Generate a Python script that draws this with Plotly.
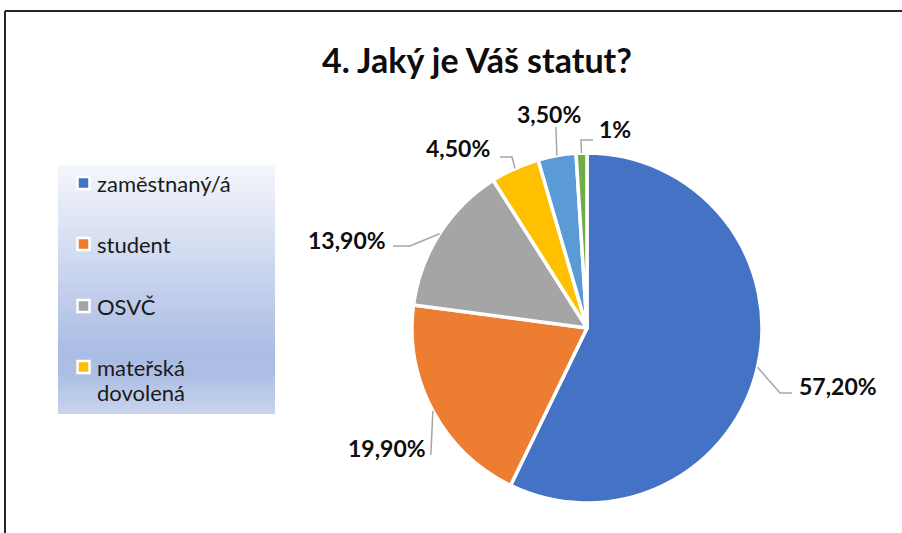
import plotly.graph_objects as go
import math

# ---------------- data ----------------
categories = ["zaměstnaný/á", "student", "OSVČ", "mateřská dovolená",
              "nezaměstnaný/á", "jiné"]
values = [57.2, 19.9, 13.9, 4.5, 3.5, 1.0]
value_labels = ["57,20%", "19,90%", "13,90%", "4,50%", "3,50%", "1%"]
legend_labels = ["zaměstnaný/á", "student", "OSVČ", "mateřská<br>dovolená"]
title_text = "4. Jaký je Váš statut?"

# ---------------- styling ----------------
colors = ["#4472C4", "#ED7D31", "#A5A5A5", "#FFC000", "#5B9BD5", "#70AD47"]
W, H = 902, 533
CX, CY, R = 587, 328, 175          # pie centre / radius in px
FONT = "Lato"

# leader-line bends (px offsets from slice edge mid-point) and label placement
leader_bends = [
    [(22.5, 25.8), (34.5, 25.8)],
    [(-2, 44)],
    [(-29.5, 12.2), (-46.5, 12.2)],
    [(-3, -11.5), (-15, -11.5)],
    [(-1, -28.6)],
    [(-0.5, -13), (11.5, -13)],
]
label_offsets = [(39.5, 18.8, "left"), (-5, 37, "right"), (-51.5, 6, "right"),
                 (-23, -20.5, "right"), (-8, -41.6, "center"), (15.5, -24, "left")]


def px(x):
    return x / W


def py(y):
    return 1 - y / H


fig = go.Figure(go.Pie(
    labels=categories, values=values, sort=False, direction="clockwise",
    rotation=0, textinfo="none", hoverinfo="label+percent", showlegend=False,
    marker=dict(colors=colors, line=dict(color="white", width=3.5)),
    domain=dict(x=[px(CX - R), px(CX + R)], y=[py(CY + R), py(CY - R)]),
))

shapes = []
annotations = []

# frame lines
shapes.append(dict(type="line", xref="paper", yref="paper", x0=px(5), x1=1.0,
                   y0=py(11), y1=py(11), line=dict(color="#262626", width=2)))
shapes.append(dict(type="line", xref="paper", yref="paper", x0=px(5), x1=px(5),
                   y0=py(11), y1=0, line=dict(color="#262626", width=2)))

# legend background gradient
LX0, LX1, LY0, LY1 = 58, 275, 165, 414
stops = [(0.0, (244, 246, 251)), (0.74, (172, 189, 228)), (0.83, (172, 189, 228)),
         (1.0, (200, 212, 238))]


def grad(t):
    for (t0, c0), (t1, c1) in zip(stops[:-1], stops[1:]):
        if t0 <= t <= t1:
            f = (t - t0) / (t1 - t0) if t1 > t0 else 0
            return "rgb(%d,%d,%d)" % tuple(round(a + (b - a) * f) for a, b in zip(c0, c1))
    return "rgb(%d,%d,%d)" % stops[-1][1]


N = 80
for i in range(N):
    y0 = LY0 + (LY1 - LY0) * i / N
    y1 = LY0 + (LY1 - LY0) * (i + 1) / N + 0.6
    shapes.append(dict(type="rect", xref="paper", yref="paper", layer="below",
                       x0=px(LX0), x1=px(LX1), y0=py(y0), y1=py(min(y1, LY1)),
                       fillcolor=grad((i + 0.5) / N), line=dict(width=0)))

# legend entries
leg_y = [183, 244, 306, 367]
LINE_GAP = 25
for lab, col, yy in zip(legend_labels, colors, leg_y):
    shapes.append(dict(type="rect", xref="paper", yref="paper",
                       x0=px(77.5), x1=px(89.5), y0=py(yy + 6), y1=py(yy - 6),
                       fillcolor=col, line=dict(color="white", width=2.5)))
    for k, part in enumerate(lab.split("<br>")):
        annotations.append(dict(xref="paper", yref="paper", x=px(95),
                                y=py(yy + k * LINE_GAP), xanchor="left",
                                yanchor="middle", text=part, showarrow=False,
                                font=dict(family=FONT, size=22, color="#1a1a1a")))

# data labels with leader lines, positions derived from the values
total = sum(values)
cum = 0
for v, lab, bends, (ox, oy, anc) in zip(values, value_labels, leader_bends, label_offsets):
    mid = (cum + v / 2) / total * 2 * math.pi
    cum += v
    ex = CX + R * math.sin(mid)
    ey = CY - R * math.cos(mid)
    pts = [(ex, ey)] + [(ex + dx, ey + dy) for dx, dy in bends]
    path = "M " + " L ".join("%f,%f" % (px(x), py(y)) for x, y in pts)
    shapes.append(dict(type="path", xref="paper", yref="paper", path=path,
                       line=dict(color="#A6A6A6", width=1.5)))
    annotations.append(dict(xref="paper", yref="paper", x=px(ex + ox),
                            y=py(ey + oy), xanchor=anc, yanchor="middle",
                            text="<b>%s</b>" % lab, showarrow=False,
                            font=dict(family=FONT, size=23, color="#0d0d0d")))

# title
annotations.append(dict(xref="paper", yref="paper", x=px(477), y=py(60),
                        xanchor="center", yanchor="middle",
                        text="<b>%s</b>" % title_text, showarrow=False,
                        font=dict(family=FONT, size=34, color="#0d0d0d")))

fig.update_layout(
    width=W, height=H, margin=dict(l=0, r=0, t=0, b=0),
    paper_bgcolor="white", plot_bgcolor="white",
    shapes=shapes, annotations=annotations, showlegend=False,
)

fig.write_html("out.html", config={"displayModeBar": False},
               post_script="document.body.style.margin='0px';document.body.style.overflow='hidden';")
